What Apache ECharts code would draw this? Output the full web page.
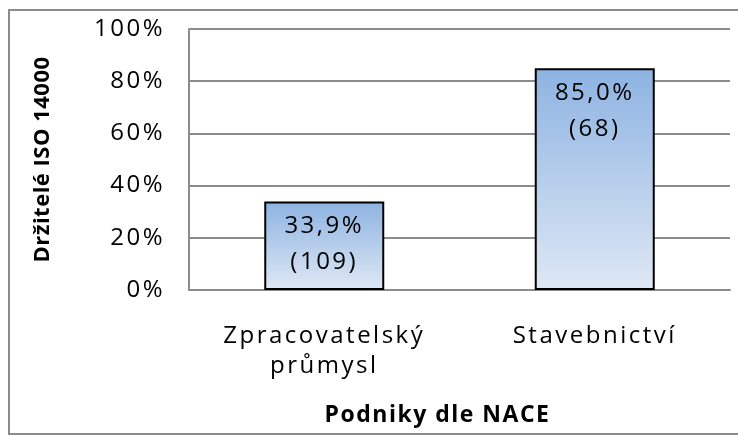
<!DOCTYPE html>
<html>
<head>
<meta charset="utf-8">
<script src="https://cdn.jsdelivr.net/npm/echarts@6/dist/echarts.min.js"></script>
<style>
html,body{margin:0;padding:0;background:#fff;}
#c{width:738px;height:435px;}
</style>
</head>
<body>
<div id="c"></div>
<script>
const categories = ['Zpracovatelský\nprůmysl', 'Stavebnictví'];
const percentValues = [33.9, 85.0];
const counts = [109, 68];
const yTicks = [0, 20, 40, 60, 80, 100];

// wide character spacing like the original rendering
(function () {
  const P = CanvasRenderingContext2D.prototype;
  if (!('letterSpacing' in P)) return;
  function spacing(font) {
    const bold = /bold|700/.test(font);
    const m = font.match(/(\d+(?:\.\d+)?)px/);
    const size = m ? parseFloat(m[1]) : 12;
    if (bold && size === 23) return '1.5px';
    if (bold && size === 22) return '0.5px';
    if (size === 24) return '2.5px';
    return '0px';
  }
  const f = P.fillText, mt = P.measureText;
  P.fillText = function (t, x, y, w) { this.letterSpacing = spacing(this.font); return w === undefined ? f.call(this, t, x, y) : f.call(this, t, x, y, w); };
  P.measureText = function (t) { this.letterSpacing = spacing(this.font); return mt.call(this, t); };
})();

const chart = echarts.init(document.getElementById('c'), null, {renderer: 'canvas'});
const FONT = '"Open Sans", "Liberation Sans", sans-serif';
chart.setOption({
  animation: false,
  graphic: [{
    type: 'rect',
    shape: {x: 9, y: 10, width: 760, height: 424},
    style: {fill: 'none', stroke: '#8c8c8c', lineWidth: 2},
    z: 0
  }],
  grid: {left: 189, right: 8, top: 29, bottom: 145, containLabel: false},
  xAxis: {
    type: 'category',
    data: categories,
    axisLine: {lineStyle: {color: '#8c8c8c', width: 2}},
    axisTick: {show: false},
    axisLabel: {fontFamily: FONT, fontSize: 24, color: '#000', lineHeight: 30, margin: 31},
    name: 'Podniky dle NACE',
    nameLocation: 'middle',
    nameGap: 113,
    nameTextStyle: {fontFamily: FONT, fontSize: 23, fontWeight: 'bold', color: '#000', padding: [0, 44, 0, 0]}
  },
  yAxis: {
    type: 'value',
    min: 0, max: 100, interval: 20,
    axisLine: {show: true, lineStyle: {color: '#8c8c8c', width: 2}},
    axisTick: {show: false},
    splitLine: {lineStyle: {color: '#8c8c8c', width: 2}},
    axisLabel: {
      fontFamily: FONT, fontSize: 24, color: '#000', margin: 24, padding: [4, 0, 0, 0],
      formatter: v => yTicks.includes(v) ? v + '%' : ''
    },
    name: 'Držitelé ISO 14000',
    nameLocation: 'middle',
    nameGap: 135,
    nameRotate: 90,
    nameTextStyle: {fontFamily: FONT, fontSize: 22, fontWeight: 'bold', color: '#000'}
  },
  series: [{
    type: 'bar',
    data: percentValues,
    barWidth: 120,
    itemStyle: {
      color: new echarts.graphic.LinearGradient(0, 0, 0, 1, [
        {offset: 0, color: '#8db3e2'},
        {offset: 1, color: '#dfe8f4'}
      ]),
      borderColor: '#000',
      borderWidth: 2
    },
    label: {
      show: true,
      position: 'insideTop',
      distance: 7,
      fontFamily: FONT,
      fontSize: 24,
      color: '#000',
      lineHeight: 36,
      formatter: p => p.value.toFixed(1).replace('.', ',') + '%\n(' + counts[p.dataIndex] + ')'
    }
  }]
});
</script>
</body>
</html>
